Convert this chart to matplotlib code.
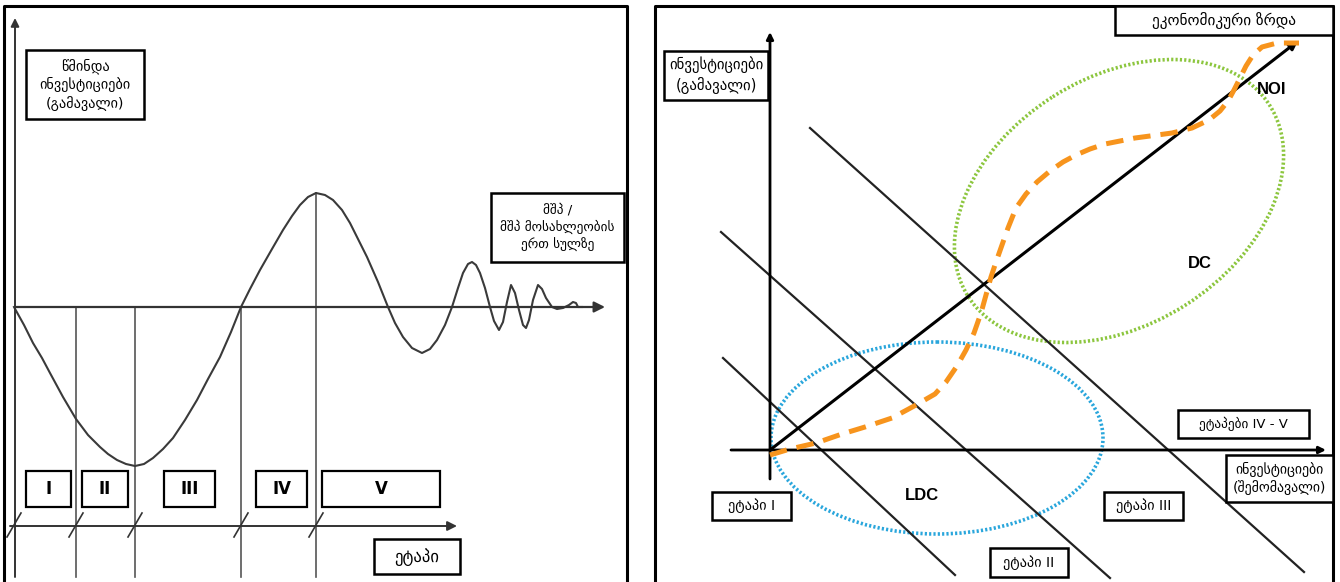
import matplotlib.pyplot as plt
from matplotlib.patches import Rectangle, Ellipse

plt.rcParams['font.family'] = ['DejaVu Sans']

# ---- left panel: investment development path (pixel units of the picture)
wave_x = [14, 24, 33, 42, 50, 63, 76, 88, 100, 108, 117, 126, 135, 144, 153, 163, 173,
          185, 197, 208, 220, 231, 241, 250, 260, 272, 283, 292, 300, 308, 316, 325,
          333, 342, 350, 358, 367, 378, 388, 395, 403, 412, 422, 430, 437, 445, 452,
          458, 463, 468, 472, 476, 480, 485, 490, 494, 499, 503, 507, 511, 515, 519,
          523, 526, 529, 533, 538, 542, 546, 552, 557, 563, 569, 573, 576, 578, 582]
wave_y = [307, 325, 343, 358, 373, 397, 419, 435, 447, 454, 460, 464, 466, 464, 458, 449,
          438, 420, 400, 379, 357, 332, 307, 289, 270, 249, 230, 216, 205, 197, 193, 195,
          200, 210, 223, 239, 257, 282, 307, 323, 337, 348, 353, 349, 340, 325, 307,
          288, 273, 264, 262, 265, 273, 288, 307, 321, 330, 322, 302, 285, 293, 310,
          325, 328, 320, 300, 285, 289, 298, 307, 309, 308, 305, 302, 303, 307, 307]
stage_x = [14, 76, 135, 241, 316]
stage_top = [307, 307, 307, 307, 193]
roman = ['I', 'II', 'III', 'IV', 'V']
roman_left = [26, 82, 164, 256, 322]
roman_right = [71, 128, 215, 307, 440]

# ---- right panel
noi_start = (770, 450)
noi_end = (1298, 41)
diag_x0 = [723, 721, 810]
diag_y0 = [358, 232, 128]
diag_x1 = [955, 1110, 1304]
diag_y1 = [575, 578, 572]
path_x = [770, 790, 816, 842, 865, 892, 916, 935, 946, 957, 966, 974, 981, 986, 991,
          996, 1002, 1008, 1016, 1026, 1037, 1050, 1063, 1076, 1090, 1105, 1120, 1135,
          1150, 1172, 1192, 1209, 1220, 1228, 1234, 1240, 1246, 1253, 1262, 1277, 1299]
path_y = [455, 449, 443, 434, 427, 418, 405, 394, 382, 366, 350, 333, 313, 295, 277,
          262, 245, 228, 208, 194, 182, 171, 162, 155, 149, 144, 141, 138,
          136, 133, 128, 120, 111, 101, 90, 78, 66, 55, 47, 43, 43]

fig = plt.figure(figsize=(13.4, 5.82), dpi=100)
ax = fig.add_axes([0, 0, 1, 1])
ax.set_xlim(0, 1340)
ax.set_ylim(582, 0)
ax.axis('off')


def box(x0, y0, x1, y1, text, size=9.5, weight='normal', lw=1.8):
    ax.add_patch(Rectangle((x0, y0), x1 - x0, y1 - y0, fill=True, fc='white',
                           ec='black', lw=lw, zorder=5))
    ax.text((x0 + x1) / 2, (y0 + y1) / 2, text, ha='center', va='center',
            fontsize=size, fontweight=weight, zorder=6, linespacing=1.3)


def arrow(p0, p1, lw=1.6, color='black', ms=14):
    ax.annotate('', xy=p1, xytext=p0,
                arrowprops=dict(arrowstyle='-|>', lw=lw, color=color,
                                mutation_scale=ms, shrinkA=0, shrinkB=0))


# panel frames
ax.plot([4, 4, 627, 627], [582, 6, 6, 582], color='black', lw=2.2)
ax.plot([655, 655, 1333, 1333], [582, 6, 6, 582], color='black', lw=2.2)

# left panel axes
arrow((15, 577), (15, 18), lw=1.4, color='#333333', ms=12)
arrow((15, 307), (605, 307), lw=1.6, color='#333333', ms=16)
for sx, st in zip(stage_x[1:], stage_top[1:]):
    ax.plot([sx, sx], [st, 577], color='#555555', lw=1.2)
ax.plot(wave_x, wave_y, color='#3a3a3a', lw=1.5)

# stage axis with slashes
arrow((10, 526), (457, 526), lw=1.4, color='#333333', ms=14)
for sx in stage_x:
    ax.plot([sx - 7, sx + 7], [537, 513], color='#333333', lw=1.2)

for r, x0, x1 in zip(roman, roman_left, roman_right):
    box(x0, 471, x1, 507, r, size=12, weight='bold', lw=1.6)

box(26, 50, 144, 119, 'წმინდა\nინვესტიციები\n(გამავალი)', size=10.3)
box(491, 193, 624, 262, 'მშპ /\nმშპ მოსახლეობის\nერთ სულზე', size=9.5)
box(374, 539, 460, 574, 'ეტაპი', size=12)

# right panel
ax.add_patch(Ellipse((1119, 201), 357, 247, angle=-32.4, fill=False,
                     ec='#8cc63e', lw=2.6, ls=(0, (0.6, 0.6))))
ax.add_patch(Ellipse((937, 438), 332, 192, angle=0, fill=False,
                     ec='#29a6dc', lw=2.6, ls=(0, (0.6, 0.6))))
for x0, y0, x1, y1 in zip(diag_x0, diag_y0, diag_x1, diag_y1):
    ax.plot([x0, x1], [y0, y1], color='#222222', lw=1.6)
arrow((770, 479), (770, 32), lw=2.0, color='black', ms=10)
arrow((731, 450), (1326, 450), lw=2.0, color='black', ms=10)
arrow(noi_start, noi_end, lw=2.2, color='black', ms=12)
ax.plot(path_x, path_y, color='#f7941d', lw=3.6, dashes=(3.5, 2.0),
        solid_capstyle='butt', zorder=4)

ax.text(1272, 89, 'NOI', ha='center', va='center', fontsize=12,
        fontweight='bold', family='Liberation Sans')
ax.text(1200, 264, 'DC', ha='center', va='center', fontsize=12,
        fontweight='bold', family='Liberation Sans')
ax.text(922, 496, 'LDC', ha='center', va='center', fontsize=12,
        fontweight='bold', family='Liberation Sans')

box(664, 51, 768, 100, 'ინვესტიციები\n(გამავალი)', size=10.6)
box(1115, 6, 1333, 35, 'ეკონომიკური ზრდა', size=11)
box(1178, 410, 1309, 438, 'ეტაპები IV - V', size=9.5)
box(1226, 455, 1333, 502, 'ინვესტიციები\n(შემომავალი)', size=10)
box(712, 492, 791, 520, 'ეტაპი I', size=10.3)
box(990, 548, 1068, 577, 'ეტაპი II', size=10.3)
box(1104, 492, 1183, 520, 'ეტაპი III', size=10.3)

fig.savefig('out.png', dpi=100)
